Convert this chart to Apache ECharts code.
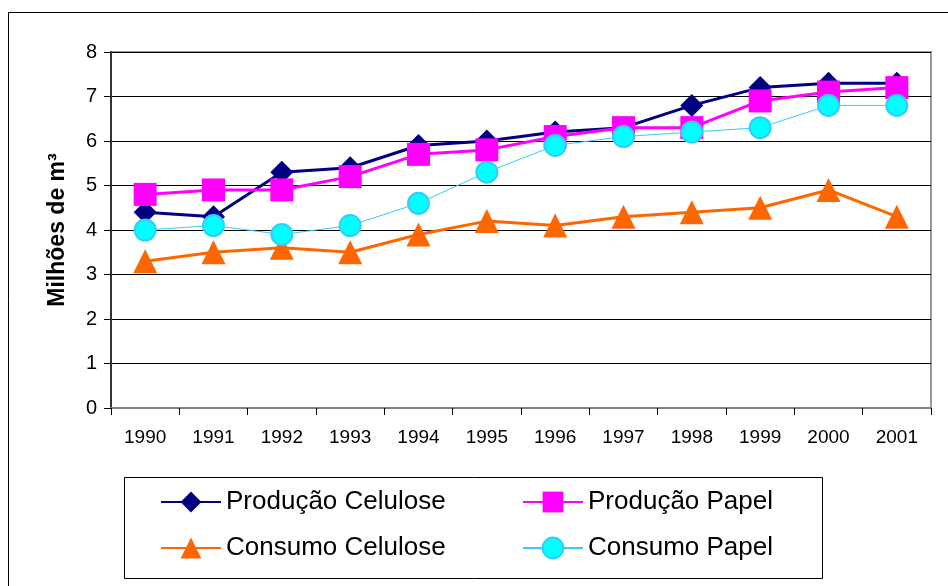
<!DOCTYPE html>
<html>
<head>
<meta charset="utf-8">
<script src="https://cdn.jsdelivr.net/npm/echarts@6/dist/echarts.min.js"></script>
<style>
  html, body { margin: 0; padding: 0; background: #fff; }
  #chart { width: 948px; height: 586px; }
</style>
</head>
<body>
<div id="chart"></div>
<script>
// Anos
const years = ['1990','1991','1992','1993','1994','1995','1996','1997','1998','1999','2000','2001'];

// Milhões de m³
const producaoCelulose = [4.4, 4.3, 5.3, 5.4, 5.9, 6.0, 6.2, 6.3, 6.8, 7.2, 7.3, 7.3];
const producaoPapel    = [4.8, 4.9, 4.9, 5.2, 5.7, 5.8, 6.1, 6.3, 6.3, 6.9, 7.1, 7.2];
const consumoCelulose  = [3.3, 3.5, 3.6, 3.5, 3.9, 4.2, 4.1, 4.3, 4.4, 4.5, 4.9, 4.3];
const consumoPapel     = [4.0, 4.1, 3.9, 4.1, 4.6, 5.3, 5.9, 6.1, 6.2, 6.3, 6.8, 6.8];

const seriesNames = ['Produção Celulose', 'Produção Papel', 'Consumo Celulose', 'Consumo Papel'];

const FONT = 'Liberation Sans, Arial, sans-serif';

const chart = echarts.init(document.getElementById('chart'), null, { renderer: 'canvas' });

function legendAt(name, left, top) {
  return {
    data: [name],
    left: left,
    top: top,
    orient: 'horizontal',
    itemWidth: 60,
    itemHeight: 26,
    itemGap: 0,
    padding: 0,
    textStyle: { fontFamily: FONT, fontSize: 26, color: '#000', padding: [0, 0, 0, 0] },
    selectedMode: false
  };
}

const option = {
  animation: false,
  backgroundColor: '#fff',
  graphic: [
    {
      type: 'rect',
      shape: { x: 8.5, y: 12.5, width: 960, height: 600 },
      style: { fill: 'none', stroke: '#000', lineWidth: 1 },
      silent: true, z: -10
    },
    {
      type: 'rect',
      shape: { x: 124.5, y: 477.5, width: 698, height: 101 },
      style: { fill: '#fff', stroke: '#000', lineWidth: 1 },
      silent: true, z: -5
    }
  ],
  legend: [
    legendAt(seriesNames[0], 160, 489),
    legendAt(seriesNames[1], 522, 489),
    legendAt(seriesNames[2], 160, 535),
    legendAt(seriesNames[3], 522, 535)
  ],
  grid: {
    left: 111, top: 52, width: 820, height: 356,
    show: true, borderColor: '#9a9a9a', borderWidth: 2, backgroundColor: '#fff'
  },
  xAxis: {
    type: 'category',
    data: years,
    boundaryGap: true,
    axisLine: { show: true, lineStyle: { color: '#808080', width: 2 } },
    axisTick: { show: true, interval: 0, length: 7, lineStyle: { color: '#000', width: 1 } },
    axisLabel: { fontFamily: FONT, fontSize: 19, color: '#000', margin: 20, interval: 0 },
    splitLine: { show: false }
  },
  yAxis: {
    type: 'value',
    min: 0, max: 8, interval: 1,
    name: 'Milhões de m³',
    nameLocation: 'middle',
    nameGap: 42,
    nameRotate: 90,
    nameTextStyle: { fontFamily: FONT, fontSize: 23, fontWeight: 'bold', color: '#000' },
    axisLine: { show: true, lineStyle: { color: '#333', width: 2 } },
    axisTick: { show: true, length: 7, lineStyle: { color: '#000', width: 1 } },
    axisLabel: { fontFamily: FONT, fontSize: 20, color: '#000', margin: 14 },
    splitLine: { show: true, lineStyle: { color: '#000', width: 1 } }
  },
  series: [
    {
      name: seriesNames[0], type: 'line', data: producaoCelulose,
      symbol: 'diamond', symbolSize: 23,
      lineStyle: { color: '#000080', width: 3 },
      itemStyle: { color: '#000080', borderWidth: 0 },
      z: 2
    },
    {
      name: seriesNames[1], type: 'line', data: producaoPapel,
      symbol: 'rect', symbolSize: 23,
      lineStyle: { color: '#FF00FF', width: 3 },
      itemStyle: { color: '#FF00FF', borderWidth: 0 },
      z: 3
    },
    {
      name: seriesNames[2], type: 'line', data: consumoCelulose,
      symbol: 'triangle', symbolSize: 24,
      lineStyle: { color: '#FF6600', width: 3 },
      itemStyle: { color: '#FF6600', borderWidth: 0 },
      z: 4
    },
    {
      name: seriesNames[3], type: 'line', data: consumoPapel,
      symbol: 'circle', symbolSize: 21,
      lineStyle: { color: '#33CCFF', width: 1 },
      itemStyle: { color: '#00FFFF', borderColor: '#33CCFF', borderWidth: 2 },
      z: 5
    }
  ]
};

chart.setOption(option);
</script>
</body>
</html>
